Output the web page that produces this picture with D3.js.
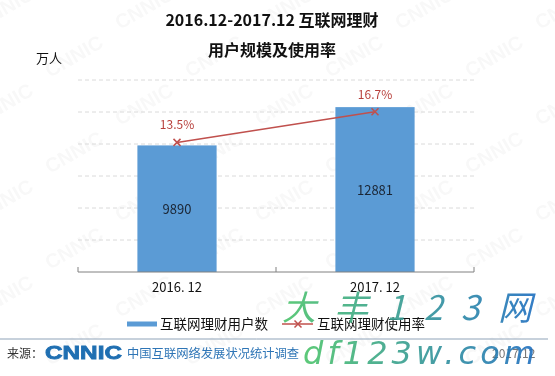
<!DOCTYPE html>
<html>
<head>
<meta charset="utf-8">
<script src="https://cdn.jsdelivr.net/npm/d3@7"></script>
<style>
  body { margin: 0; background: #fff; }
  svg { display: block; font-family: "Noto Sans CJK SC", "Noto Sans", sans-serif; }
</style>
</head>
<body>
<div id="graphic"></div>
<script>
// chart data
const categories = ['2016. 12', '2017. 12'];
const users = [9890, 12881];          // 万人
const rates = [13.5, 16.7];           // %
const gridTicks = [2500, 5000, 7500, 10000, 12500, 15000];
const legendLabels = ['互联网理财用户数', '互联网理财使用率'];

const width = 555, height = 376;
const margin = { top: 80, right: 81, bottom: 104, left: 78 };
const plotW = width - margin.left - margin.right;   // 396
const plotH = height - margin.top - margin.bottom;  // 192

const svg = d3.select('#graphic').append('svg')
  .attr('width', width)
  .attr('height', height);

// faint background watermark
const wm = svg.append('g').attr('fill', '#000').attr('opacity', 0.03)
  .attr('font-size', 20).attr('font-weight', 'bold').attr('font-family', 'Liberation Sans, sans-serif');
for (let r = 0; r < 8; r++) {
  for (let c = 0; c < 5; c++) {
    wm.append('text')
      .attr('transform', 'translate(' + (c * 140 + (r % 2) * 70 - 20) + ',' + (r * 48 + 30) + ') rotate(-30)')
      .text('CNNIC');
  }
}

// titles
svg.append('text').attr('x', 272).attr('y', 26).attr('text-anchor', 'middle')
  .attr('font-size', 16).attr('font-weight', 'bold').attr('fill', '#111')
  .text('2016.12-2017.12 互联网理财');
svg.append('text').attr('x', 272).attr('y', 56).attr('text-anchor', 'middle')
  .attr('font-size', 16).attr('font-weight', 'bold').attr('fill', '#111')
  .text('用户规模及使用率');
svg.append('text').attr('x', 36).attr('y', 63)
  .attr('font-size', 13).attr('fill', '#111')
  .text('万人');

const g = svg.append('g').attr('transform', 'translate(' + margin.left + ',' + margin.top + ')');

// scales
const x = d3.scaleBand().domain(categories).range([0, plotW]).paddingInner(0.6).paddingOuter(0.3);
const y = d3.scaleLinear().domain([0, 15000]).range([plotH, 0]);
const y2 = d3.scaleLinear().domain([0, 20]).range([plotH, 0]);

// gridlines
g.append('g').selectAll('line').data(gridTicks).join('line')
  .attr('x1', 0).attr('x2', plotW)
  .attr('y1', d => y(d)).attr('y2', d => y(d))
  .attr('stroke', '#dadada').attr('stroke-dasharray', '4,3');

// bars
g.append('g').selectAll('rect').data(users).join('rect')
  .attr('x', (d, i) => x(categories[i]))
  .attr('y', d => y(d))
  .attr('width', x.bandwidth())
  .attr('height', d => plotH - y(d))
  .attr('fill', '#5b9bd5');

g.append('g').selectAll('text').data(users).join('text')
  .attr('x', (d, i) => x(categories[i]) + x.bandwidth() / 2)
  .attr('y', d => (y(d) + plotH) / 2 + 5)
  .attr('text-anchor', 'middle')
  .attr('font-size', 13).attr('fill', '#1b2635')
  .text(d => d);

// x axis (ticks pointing up between categories)
const step = x.step();
const bounds = [0, x(categories[0]) + x.bandwidth() / 2 + step / 2, plotW];
const ax = g.append('g');
ax.append('line').attr('x1', 0).attr('x2', plotW).attr('y1', plotH).attr('y2', plotH)
  .attr('stroke', '#808080');
ax.selectAll('.tk').data(bounds).join('line').attr('class', 'tk')
  .attr('x1', d => d).attr('x2', d => d).attr('y1', plotH - 5).attr('y2', plotH)
  .attr('stroke', '#808080');
ax.selectAll('text').data(categories).join('text')
  .attr('x', d => x(d) + x.bandwidth() / 2)
  .attr('y', plotH + 20)
  .attr('text-anchor', 'middle')
  .attr('font-size', 13).attr('fill', '#111')
  .text(d => d);

// rate line
const cx = (d, i) => x(categories[i]) + x.bandwidth() / 2;
const line = d3.line().x(cx).y(d => y2(d));
g.append('path').attr('d', line(rates))
  .attr('fill', 'none').attr('stroke', '#c0504d').attr('stroke-width', 1.5);

function cross(sel, s) {
  sel.append('path')
    .attr('d', 'M' + (-s) + ',' + (-s) + 'L' + s + ',' + s + 'M' + (-s) + ',' + s + 'L' + s + ',' + (-s))
    .attr('stroke', '#c0504d').attr('stroke-width', 1.5).attr('fill', 'none');
}
g.append('g').selectAll('g').data(rates).join('g')
  .attr('transform', (d, i) => 'translate(' + cx(d, i) + ',' + y2(d) + ')')
  .call(cross, 3.5);

g.append('g').selectAll('text').data(rates).join('text')
  .attr('x', cx)
  .attr('y', d => y2(d) - 13)
  .attr('text-anchor', 'middle')
  .attr('font-size', 12).attr('fill', '#b8403c')
  .text(d => d.toFixed(1) + '%');

// legend
const lg = svg.append('g').attr('transform', 'translate(0,324)');
lg.append('rect').attr('x', 127).attr('y', -2.5).attr('width', 30).attr('height', 5).attr('fill', '#5b9bd5');
lg.append('text').attr('x', 160).attr('y', 5).attr('font-size', 13.5).attr('fill', '#111').text(legendLabels[0]);
lg.append('line').attr('x1', 282).attr('x2', 313).attr('y1', 0).attr('y2', 0)
  .attr('stroke', '#c0504d').attr('stroke-width', 1.5);
lg.append('g').attr('transform', 'translate(298,0)').call(cross, 3.5);
lg.append('text').attr('x', 317).attr('y', 5).attr('font-size', 13.5).attr('fill', '#111').text(legendLabels[1]);

// footer
svg.append('line').attr('x1', 0).attr('x2', 548).attr('y1', 339).attr('y2', 339)
  .attr('stroke', '#8fa3b8').attr('stroke-width', 1);
svg.append('text').attr('x', 7).attr('y', 358).attr('font-size', 12).attr('fill', '#333').text('来源：');
svg.append('text').attr('x', 45).attr('y', 359)
  .attr('font-family', 'Liberation Sans, DejaVu Sans, sans-serif')
  .attr('font-size', 18).attr('font-weight', 'bold').attr('fill', '#1f6fb2')
  .attr('stroke', '#1f6fb2').attr('stroke-width', 0.8)
  .attr('textLength', 77).attr('lengthAdjust', 'spacingAndGlyphs')
  .text('CNNIC');
svg.append('text').attr('x', 127).attr('y', 358).attr('font-size', 12.3).attr('fill', '#2e75b6')
  .text('中国互联网络发展状况统计调查');
svg.append('text').attr('x', 492).attr('y', 358).attr('font-size', 12).attr('fill', '#777').text('2017.12');

// site watermark overlay
const defs = svg.append('defs');
const grad = defs.append('linearGradient').attr('id', 'wmgrad').attr('x1', '0%').attr('x2', '100%');
grad.append('stop').attr('offset', '0%').attr('stop-color', '#4cc46a');
grad.append('stop').attr('offset', '100%').attr('stop-color', '#1f6fc0');
svg.append('text').attr('x', 282).attr('y', 320)
  .attr('font-size', 34).attr('font-style', 'italic').attr('fill', 'url(#wmgrad)').attr('opacity', 0.9)
  .attr('textLength', 250).attr('lengthAdjust', 'spacing')
  .text('大丰123网');
svg.append('text').attr('x', 303).attr('y', 364)
  .attr('font-family', 'DejaVu Sans, sans-serif')
  .attr('font-size', 32).attr('font-style', 'italic').attr('fill', 'url(#wmgrad)').attr('opacity', 0.9)
  .attr('textLength', 232).attr('lengthAdjust', 'spacing')
  .text('df123w.com');
</script>
</body>
</html>
